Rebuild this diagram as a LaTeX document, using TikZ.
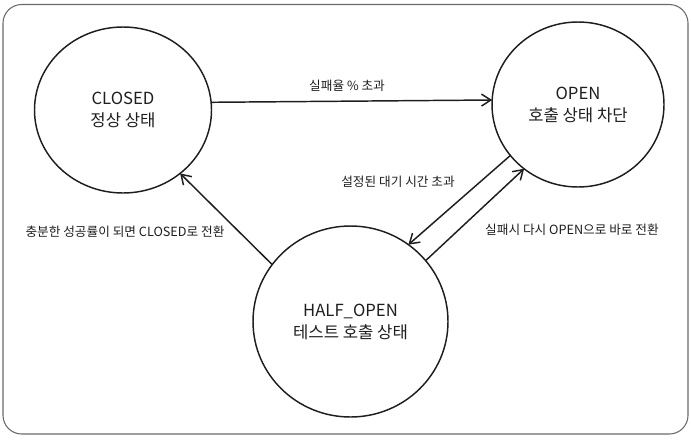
\documentclass[tikz,border=0pt]{standalone}
\usepackage{fontspec}
\newfontfamily\kr{Noto Sans CJK KR}
\usetikzlibrary{shapes.geometric,arrows.meta}

\begin{document}
\begin{tikzpicture}[x=0.75pt, y=-0.75pt,
  stateNode/.style={ellipse, draw=lineBlack, line width=1.1pt, inner sep=0pt, outer sep=0pt,
    align=center, text=lineBlack, font=\kr\fontsize{12.5}{16.5}\selectfont},
  transArrow/.style={draw=lineBlack, line width=1.1pt, -{Straight Barb[length=7pt,width=9pt]}},
  transLabel/.style={text=lineBlack, font=\kr\fontsize{9.5}{11}\selectfont}]

% Colori
\definecolor{lineBlack}{HTML}{1E1E1E}
\definecolor{frameGray}{HTML}{6A6A6A}

% Unita' pixel
\def\px{0.75pt}

\useasboundingbox (0,0) rectangle (691,439);

% Cornice
\draw[frameGray, line width=0.8pt, rounded corners=14pt] (3,4.5) rectangle (688,434);

% Stati
\node[stateNode, minimum width=177*\px, minimum height=166*\px] (closed) at (123,110) {CLOSED\\정상 상태};
\node[stateNode, minimum width=172*\px, minimum height=165*\px] (open) at (578,104.5) {OPEN\\호출 상태 차단};
\node[stateNode, minimum width=195*\px, minimum height=191*\px] (half) at (350.5,321.5) {HALF\_OPEN\\테스트 호출 상태};

% Transizioni
\draw[transArrow] (closed.5) -- (open.177);
\draw[transArrow] (open.217.5) -- (half.53.5);
\draw[transArrow] (half.39.3) -- (open.230.5);
\draw[transArrow] (half.144.9) -- (closed.-48.4);

% Etichette
\node[transLabel] (lblFail) at (347,86) {실패율 \% 초과};
\node[transLabel] (lblWait) at (398,182) {설정된 대기 시간 초과};
\node[transLabel] (lblRetry) at (572,230) {실패시 다시 OPEN으로 바로 전환};
\node[transLabel] (lblOk) at (125,232) {충분한 성공률이 되면 CLOSED로 전환};

\end{tikzpicture}
\end{document}
